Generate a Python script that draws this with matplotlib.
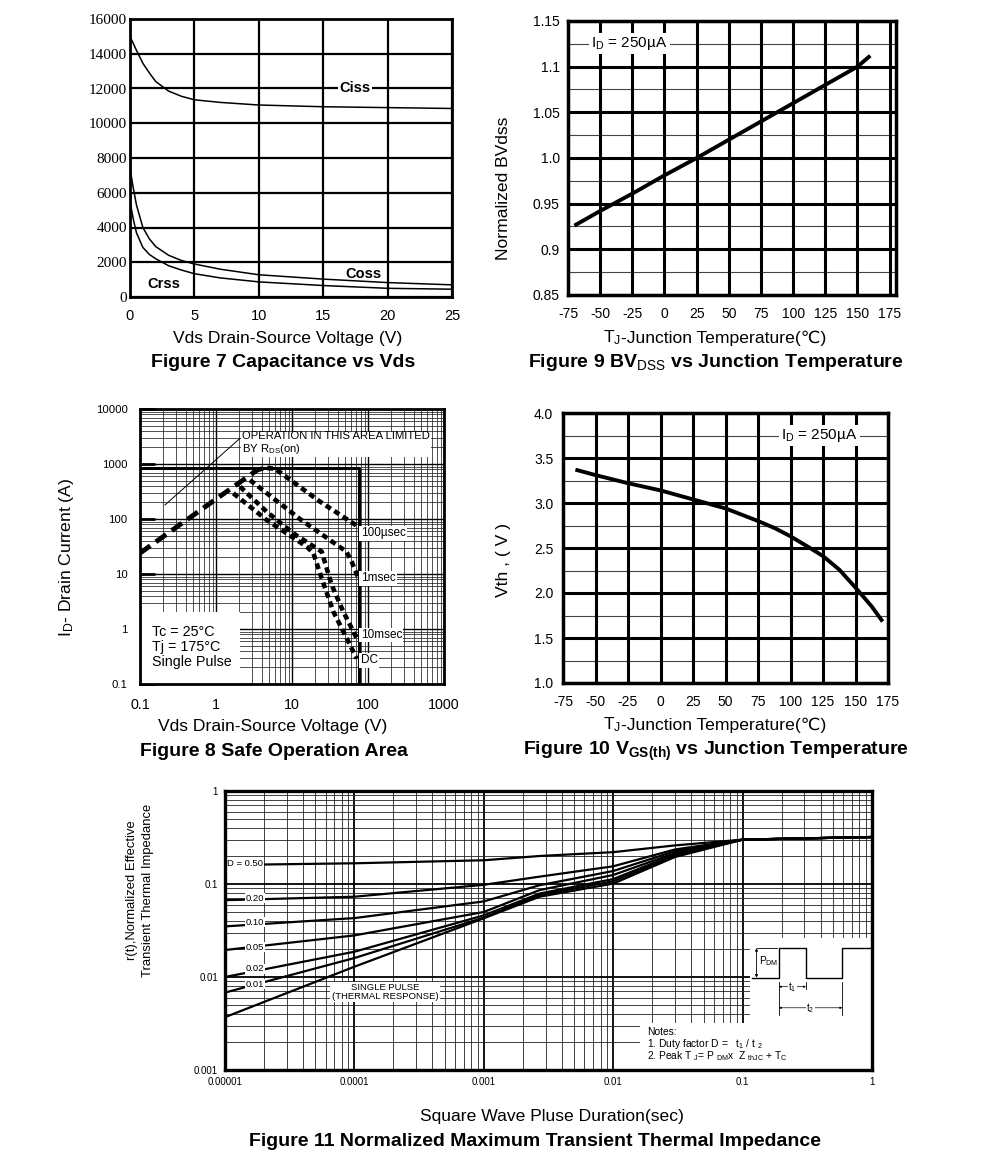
import numpy as np
import matplotlib
matplotlib.use('Agg')
import matplotlib.pyplot as plt
from matplotlib.patches import Rectangle
from matplotlib.ticker import FixedLocator, FixedFormatter, NullFormatter, LogLocator

plt.rcParams['font.family'] = ['Liberation Sans', 'DejaVu Sans']
plt.rcParams['mathtext.fontset'] = 'custom'
plt.rcParams['mathtext.rm'] = 'Liberation Sans'
plt.rcParams['mathtext.it'] = 'Liberation Sans:italic'
plt.rcParams['mathtext.bf'] = 'Liberation Sans:bold'
plt.rcParams['mathtext.default'] = 'regular'
plt.rcParams['axes.unicode_minus'] = False

# ---------------- data ----------------
# Figure 7 capacitance
cap_v = [0, 0.25, 0.5, 1, 1.5, 2, 3, 4, 5, 7, 10, 15, 20, 25]
ciss = [15000, 14600, 14200, 13450, 12900, 12400, 11850, 11550, 11350, 11200, 11050, 10950, 10900, 10850]
coss = [7400, 6300, 5300, 4000, 3350, 2900, 2400, 2100, 1900, 1600, 1280, 1030, 830, 700]
crss = [5500, 4500, 3700, 2850, 2450, 2200, 1800, 1550, 1340, 1100, 870, 660, 500, 450]
cap_xticks = [0, 5, 10, 15, 20, 25]
cap_yticks = [0, 2000, 4000, 6000, 8000, 10000, 12000, 14000, 16000]

# Figure 9 BVdss
bv_t = [-70, -50, -25, 0, 25, 50, 75, 100, 125, 150, 160]
bv_norm = [0.926, 0.942, 0.961, 0.981, 1.0, 1.02, 1.04, 1.06, 1.08, 1.10, 1.112]
bv_yticks = [0.85, 0.9, 0.95, 1.0, 1.05, 1.1, 1.15]
bv_ylabels = ['0.85', '0.9', '0.95', '1.0', '1.05', '1.1', '1.15']
temp_ticks = [-75, -50, -25, 0, 25, 50, 75, 100, 125, 150, 175]

# Figure 10 Vth
vth_t = [-64, -50, -25, 0, 25, 50, 75, 88, 100, 115, 125, 137.5, 150, 162.5, 170]
vth = [3.365, 3.31, 3.22, 3.14, 3.04, 2.94, 2.80, 2.72, 2.63, 2.5, 2.41, 2.26, 2.06, 1.85, 1.70]
vth_yticks = [1.0, 1.5, 2.0, 2.5, 3.0, 3.5, 4.0]
vth_ylabels = ['1.0', '1.5', '2.0', '2.5', '3.0', '3.5', '4.0']

# Figure 8 SOA
soa_rds_v = [0.1, 1.0, 3.5]
soa_rds_i = [24, 230, 780]
soa_100us_v = [3.5, 4.5, 6, 23, 75]
soa_100us_i = [780, 850, 820, 210, 72]
soa_1ms_v = [2.8, 12.7, 52, 61, 75]
soa_1ms_i = [510, 100, 25.5, 16.7, 8.3]
soa_10ms_v = [2.07, 4.64, 10.4, 24.6, 33.3, 47.3, 71]
soa_10ms_i = [387, 136, 54.8, 25.5, 6.3, 2.07, 0.68]
soa_dc_v = [1.69, 4.64, 15.6, 19.1, 24.6, 35, 52.4, 71]
soa_dc_i = [293, 96, 31.4, 24, 8.3, 2.07, 0.68, 0.29]
soa_limit_v = [0.1, 75, 75]
soa_limit_i = [850, 850, 0.1]
soa_xticks = [0.1, 1, 10, 100, 1000]
soa_xlabels = ['0.1', '1', '10', '100', '1000']
soa_yticks = [0.1, 1, 10, 100, 1000, 10000]
soa_ylabels = ['0.1', '1', '10', '100', '1000', '10000']

# Figure 11 transient thermal impedance
zth_t = [1e-5, 1e-4, 1e-3, 2.7e-3, 1e-2, 3e-2, 1e-1, 1]
zth_curves = {
    'D = 0.50': [0.16, 0.167, 0.18, 0.20, 0.22, 0.26, 0.30, 0.32],
    '0.20': [0.067, 0.073, 0.098, 0.12, 0.155, 0.235, 0.30, 0.32],
    '0.10': [0.035, 0.043, 0.065, 0.097, 0.138, 0.225, 0.30, 0.32],
    '0.05': [0.0195, 0.028, 0.05, 0.086, 0.125, 0.215, 0.30, 0.32],
    '0.02': [0.010, 0.0187, 0.046, 0.079, 0.113, 0.208, 0.30, 0.32],
    '0.01': [0.0068, 0.016, 0.0435, 0.076, 0.107, 0.20, 0.30, 0.32],
    'single': [0.0037, 0.0129, 0.0428, 0.073, 0.101, 0.195, 0.30, 0.32],
}
zth_label_y = {'D = 0.50': 0.168, '0.20': 0.0707, '0.10': 0.039,
               '0.05': 0.021, '0.02': 0.0122, '0.01': 0.0084}
zth_xticks = [1e-5, 1e-4, 1e-3, 1e-2, 1e-1, 1]
zth_xlabels = ['0.00001', '0.0001', '0.001', '0.01', '0.1', '1']
zth_yticks = [1e-3, 1e-2, 1e-1, 1]
zth_ylabels = ['0.001', '0.01', '0.1', '1']

# ---------------- figure ----------------
W, H = 991, 1168
fig = plt.figure(figsize=(W / 100, H / 100), dpi=100)


def axpx(l, t, r, b):
    return fig.add_axes([l / W, 1 - b / H, (r - l) / W, (b - t) / H])


def ftext(x, y, s, **kw):
    fig.text(x / W, 1 - y / H, s, **kw)


def spines(ax, lw):
    for sp in ax.spines.values():
        sp.set_linewidth(lw)
        sp.set_color('black')
        sp.set_zorder(5)


TITLE = dict(fontsize=14, fontweight='bold', ha='center', va='center')
LSIZE = 12.6
LABEL = dict(fontsize=LSIZE, ha='center', va='center')


def temp_label(y):
    ftext(621, y, r'T$_{\mathrm{J}}$', fontsize=LSIZE, ha='right', va='center')
    ftext(621, y, '-Junction Temperature(℃)', fontsize=LSIZE, ha='left', va='center')


# ===== Figure 7 =====
ax = axpx(130, 19, 452, 297)
ax.plot(cap_v, ciss, color='k', lw=1.1)
ax.plot(cap_v, coss, color='k', lw=1.1)
ax.plot(cap_v, crss, color='k', lw=1.1)
ax.set_xlim(0, 25)
ax.set_ylim(0, 16000)
ax.set_xticks(cap_xticks)
ax.set_yticks(cap_yticks)
ax.grid(True, color='k', lw=1.6)
ax.set_axisbelow(True)
ax.tick_params(length=0)
ax.tick_params(axis='x', pad=9, labelsize=10.5)
ax.tick_params(axis='y', pad=2)
for lab in ax.get_yticklabels():
    lab.set_fontfamily('Liberation Serif')
    lab.set_fontsize(11)
spines(ax, 2)
tb = dict(fc='white', ec='none', pad=1)
ax.text(17.5, 12000, 'Ciss', fontsize=10.5, fontweight='bold', ha='center', va='center', bbox=tb)
ax.text(18.1, 1300, 'Coss', fontsize=10.5, fontweight='bold', ha='center', va='center')
ax.text(2.6, 770, 'Crss', fontsize=10.5, fontweight='bold', ha='center', va='center')
ftext(288, 338, 'Vds Drain-Source Voltage (V)', **LABEL)
ftext(283, 362, 'Figure 7 Capacitance vs Vds', **TITLE)

# ===== Figure 9 =====
ax = axpx(568, 21, 896, 295)
ax.plot(bv_t, bv_norm, color='k', lw=2.8, solid_capstyle='butt', zorder=3)
ax.set_xlim(-75, 180)
ax.set_ylim(0.85, 1.15)
ax.set_xticks(temp_ticks)
ax.set_yticks(bv_yticks)
ax.set_yticklabels(bv_ylabels)
for v in temp_ticks:
    if -75 < v < 176:
        ax.axvline(v, color='k', lw=2.2, zorder=1)
for v in bv_yticks:
    ax.axhline(v, color='k', lw=2.2, zorder=1)
    ax.axhline(v + 0.025, color='#444', lw=0.8, zorder=0.9)
ax.tick_params(length=0, labelsize=10)
ax.tick_params(axis='x', pad=9)
ax.tick_params(axis='y', pad=6)
spines(ax, 2.5)
ax.text(-57, 1.125, r'I$_{\mathrm{D}}$ = 250µA', fontsize=11, ha='left', va='center',
        bbox=dict(fc='white', ec='none', pad=1.5), zorder=4)
ftext(503, 188, 'Normalized BVdss', rotation=90, **LABEL)
temp_label(338)
ftext(716, 362, r'Figure 9 BV$_{\mathrm{DSS}}$ vs Junction Temperature', **TITLE)

# ===== Figure 10 =====
ax = axpx(563, 413, 888, 683)
ax.plot(vth_t, vth, color='k', lw=2.8, zorder=3)
ax.set_xlim(-75, 175)
ax.set_ylim(1.0, 4.0)
ax.set_xticks(temp_ticks)
ax.set_yticks(vth_yticks)
ax.set_yticklabels(vth_ylabels)
for v in temp_ticks:
    if -75 < v < 175:
        ax.axvline(v, color='k', lw=2.2, zorder=1)
for v in vth_yticks:
    ax.axhline(v, color='k', lw=2.2, zorder=1)
    ax.axhline(v + 0.25, color='#444', lw=0.8, zorder=0.9)
ax.tick_params(length=0, labelsize=10)
ax.tick_params(axis='x', pad=9)
ax.tick_params(axis='y', pad=7)
spines(ax, 2.5)
ax.text(93, 3.75, r'I$_{\mathrm{D}}$ = 250µA', fontsize=11, ha='left', va='center',
        bbox=dict(fc='white', ec='none', pad=1.5), zorder=4)
ftext(503, 560, 'Vth , ( V )', rotation=90, **LABEL)
temp_label(725)
ftext(716, 751, r'Figure 10 V$_{\mathbf{GS(th)}}$ vs Junction Temperature', **TITLE)

# ===== Figure 8 SOA =====
ax = axpx(140, 409, 444, 684)
ax.set_xscale('log')
ax.set_yscale('log')
ax.set_xlim(0.1, 1000)
ax.set_ylim(0.1, 10000)
ax.xaxis.set_major_locator(FixedLocator(soa_xticks))
ax.xaxis.set_major_formatter(FixedFormatter(soa_xlabels))
ax.yaxis.set_major_locator(FixedLocator(soa_yticks))
ax.yaxis.set_major_formatter(FixedFormatter(soa_ylabels))
ax.xaxis.set_minor_locator(LogLocator(subs=np.arange(2, 10)))
ax.yaxis.set_minor_locator(LogLocator(subs=np.arange(2, 10)))
ax.xaxis.set_minor_formatter(NullFormatter())
ax.yaxis.set_minor_formatter(NullFormatter())
ax.grid(True, which='major', color='k', lw=1.0)
ax.grid(True, which='minor', color='#222', lw=0.55)
ax.set_axisbelow(True)
ax.tick_params(which='both', axis='x', length=0, pad=10, labelsize=10.3)
ax.tick_params(which='minor', axis='y', length=0)
ax.tick_params(which='major', axis='y', direction='in', length=11, width=2, pad=9, labelsize=8.2)
ax.add_patch(Rectangle((0, 0), 0.33, 0.262, transform=ax.transAxes, fc='white', ec='none', zorder=1))
ax.plot(soa_limit_v, soa_limit_i, color='k', lw=2.2, zorder=2)
ax.plot(soa_rds_v, soa_rds_i, color='k', lw=3.5, ls=(0, (2.6, 1.4)), zorder=3)
for xs, ys in [(soa_100us_v, soa_100us_i), (soa_1ms_v, soa_1ms_i),
               (soa_10ms_v, soa_10ms_i), (soa_dc_v, soa_dc_i)]:
    ax.plot(xs, ys, color='k', lw=3.3, ls=(0, (1.3, 0.9)), zorder=3)
lb = dict(fc='white', ec='none', pad=1)
ax.text(80, 55, '100µsec', fontsize=8.5, ha='left', va='center', bbox=lb, zorder=4)
ax.text(80, 8.4, '1msec', fontsize=8.5, ha='left', va='center', bbox=lb, zorder=4)
ax.text(80, 0.78, '10msec', fontsize=8.5, ha='left', va='center', bbox=lb, zorder=4)
ax.text(80, 0.27, 'DC', fontsize=8.5, ha='left', va='center', bbox=lb, zorder=4)
ax.text(2.2, 2350, 'OPERATION IN THIS AREA LIMITED\nBY R$_{DS}$(on)', fontsize=8.1,
        ha='left', va='center', linespacing=1.05, bbox=lb, zorder=4)
ax.plot([0.213, 2.07], [180, 2930], color='k', lw=0.7, zorder=3)
ax.text(0.04, 0.135, 'Tc = 25°C\nTj = 175°C\nSingle Pulse', transform=ax.transAxes,
        fontsize=10.3, ha='left', va='center', linespacing=1.1, zorder=4)
spines(ax, 2)
ftext(66, 557, r'I$_{\mathrm{D}}$- Drain Current (A)', rotation=90, **LABEL)
ftext(273, 727, 'Vds Drain-Source Voltage (V)', **LABEL)
ftext(274, 751, 'Figure 8 Safe Operation Area', **TITLE)

# ===== Figure 11 =====
ax = axpx(225, 791, 872, 1070)
ax.set_xscale('log')
ax.set_yscale('log')
ax.set_xlim(1e-5, 1)
ax.set_ylim(1e-3, 1)
ax.xaxis.set_major_locator(FixedLocator(zth_xticks))
ax.xaxis.set_major_formatter(FixedFormatter(zth_xlabels))
ax.yaxis.set_major_locator(FixedLocator(zth_yticks))
ax.yaxis.set_major_formatter(FixedFormatter(zth_ylabels))
ax.xaxis.set_minor_locator(LogLocator(subs=np.arange(2, 10)))
ax.yaxis.set_minor_locator(LogLocator(subs=np.arange(2, 10)))
ax.xaxis.set_minor_formatter(NullFormatter())
ax.yaxis.set_minor_formatter(NullFormatter())
ax.grid(True, which='major', color='k', lw=1.3)
ax.grid(True, which='minor', color='#222', lw=0.6)
ax.set_axisbelow(True)
ax.tick_params(which='both', length=0, labelsize=7)
ax.tick_params(axis='x', pad=5)
ax.tick_params(axis='y', pad=5)
ax.add_patch(Rectangle((0.811, 0), 0.189, 0.473, transform=ax.transAxes, fc='white', ec='none', zorder=1))
ax.add_patch(Rectangle((0.641, 0), 0.359, 0.168, transform=ax.transAxes, fc='white', ec='none', zorder=1))
for name, vals in zth_curves.items():
    ax.plot(zth_t, vals, color='k', lw=1.6, zorder=3)
zb = dict(fc='white', ec='none', pad=0.6)
for name, yv in zth_label_y.items():
    xv = 1.04e-5 if name.startswith('D') else 1.45e-5
    ax.text(xv, yv, name, fontsize=6.8, ha='left', va='center', bbox=zb, zorder=4)
ax.text(1.72e-4, 0.0069, 'SINGLE PULSE\n(THERMAL RESPONSE)', fontsize=6.8, ha='center', va='center',
        linespacing=1.0, bbox=dict(fc='white', ec='none', pad=1), zorder=4)
# pulse diagram
tr = ax.transAxes
ax.plot([0.8145, 0.856, 0.856, 0.898, 0.898, 0.954, 0.954, 0.997],
        [0.331, 0.331, 0.437, 0.437, 0.331, 0.331, 0.437, 0.437], transform=tr, color='k', lw=1.0, zorder=4)
ax.plot([0.822, 0.853], [0.437, 0.437], transform=tr, color='k', lw=0.6, zorder=4)
ax.annotate('', xy=(0.8215, 0.437), xytext=(0.8215, 0.331), xycoords=tr, textcoords=tr,
            arrowprops=dict(arrowstyle='<|-|>', lw=0.6, color='k', shrinkA=0, shrinkB=0, mutation_scale=4), zorder=4)
ax.text(0.826, 0.39, r'P$_{\mathrm{DM}}$', transform=tr, fontsize=7.3, ha='left', va='center', zorder=4)
for x0, y0 in [(0.856, 0.197), (0.898, 0.29), (0.954, 0.197)]:
    ax.plot([x0, x0], [y0, 0.315], transform=tr, color='k', lw=0.6, zorder=4)
ax.annotate('', xy=(0.856, 0.2986), xytext=(0.898, 0.2986), xycoords=tr, textcoords=tr,
            arrowprops=dict(arrowstyle='<|-|>', lw=0.5, color='k', shrinkA=0, shrinkB=0, mutation_scale=3), zorder=4)
ax.text(0.877, 0.2986, r't$_1$', transform=tr, fontsize=7, ha='center', va='center',
        bbox=dict(fc='white', ec='none', pad=0.3), zorder=5)
ax.annotate('', xy=(0.856, 0.223), xytext=(0.954, 0.223), xycoords=tr, textcoords=tr,
            arrowprops=dict(arrowstyle='<|-|>', lw=0.5, color='k', shrinkA=0, shrinkB=0, mutation_scale=3), zorder=4)
ax.text(0.905, 0.223, r't$_2$', transform=tr, fontsize=7, ha='center', va='center',
        bbox=dict(fc='white', ec='none', pad=0.3), zorder=5)
ax.text(0.652, 0.137, 'Notes:', transform=tr, fontsize=7.4, ha='left', va='center', zorder=4)
ax.text(0.652, 0.093, r'1. Duty factor D =   t$_1$ / t $_2$', transform=tr, fontsize=7.4,
        ha='left', va='center', zorder=4)
ax.text(0.652, 0.051, r'2. Peak T $_J$= P $_{DM}$x  Z $_{thJC}$ + T$_C$', transform=tr, fontsize=7.4,
        ha='left', va='center', zorder=4)
spines(ax, 2.4)
ftext(140, 890, 'r(t),Normalized Effective\nTransient Thermal Impedance', rotation=90,
      fontsize=9.4, ha='center', va='center', linespacing=1.45)
ftext(552, 1117, 'Square Wave Pluse Duration(sec)', **LABEL)
ftext(535, 1142, 'Figure 11 Normalized Maximum Transient Thermal Impedance', **TITLE)

fig.savefig('out.png', dpi=100, facecolor='white')
